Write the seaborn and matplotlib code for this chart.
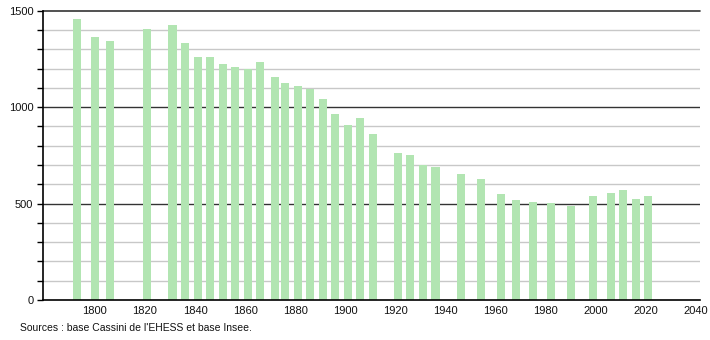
import matplotlib
matplotlib.use("Agg")
import matplotlib.pyplot as plt
import seaborn as sns
import pandas as pd
from matplotlib.ticker import MultipleLocator

years = [1793, 1800, 1806, 1821, 1831, 1836, 1841, 1846, 1851, 1856, 1861, 1866,
         1872, 1876, 1881, 1886, 1891, 1896, 1901, 1906, 1911, 1921, 1926, 1931,
         1936, 1946, 1954, 1962, 1968, 1975, 1982, 1990, 1999, 2006, 2011, 2016, 2021]
population = [1455, 1362, 1341, 1403, 1426, 1331, 1258, 1258, 1223, 1206, 1199, 1234,
              1154, 1127, 1109, 1092, 1040, 964, 907, 943, 861, 762, 750, 698,
              688, 653, 626, 550, 518, 508, 501, 487, 539, 555, 570, 522, 541]
xticks = list(range(1800, 2041, 20))
yticks = [0, 500, 1000, 1500]
source_text = "Sources : base Cassini de l'EHESS et base Insee."

sns.set_theme(style="white")
plt.rcParams['font.family'] = ['Liberation Sans', 'DejaVu Sans']

df = pd.DataFrame({"year": years, "population": population})

fig = plt.figure(figsize=(7.1, 3.4), dpi=100)
ax = fig.add_axes([43/710, 1 - 300/340, (700 - 43)/710, (300 - 10.7)/340])

# grid lines
for v in range(100, 1500, 100):
    if v % 500 == 0:
        ax.axhline(v, color="#333333", lw=1.0, zorder=0)
    else:
        ax.axhline(v, color="#c8c8c8", lw=1.0, zorder=0)
ax.axhline(1500, color="#333333", lw=1.2, zorder=0, clip_on=False)

sns.barplot(data=df, x="year", y="population", native_scale=True, width=0.8,
            color="#b2e5b2", saturation=1, edgecolor="none", ax=ax, zorder=2)

ax.set_xlim(1779.3, 2041.6)
ax.set_ylim(0, 1500)
ax.set_xticks(xticks)
ax.set_xticklabels([str(t) for t in xticks], fontsize=8, color="#111111")
ax.set_yticks(yticks)
ax.set_yticklabels([str(t) for t in yticks], fontsize=8, color="#111111")
ax.yaxis.set_minor_locator(MultipleLocator(100))
ax.tick_params(axis="y", which="both", left=True, length=4, width=1, color="black", pad=3)
ax.tick_params(axis="x", which="both", bottom=False, length=0, pad=4)
ax.set_xlabel("")
ax.set_ylabel("")
for s in ["top", "right"]:
    ax.spines[s].set_visible(False)
for s in ["left", "bottom"]:
    ax.spines[s].set_color("black")
    ax.spines[s].set_linewidth(1.2)
    ax.spines[s].set_zorder(3)

fig.text(20/710, 1 - 328/340, source_text, fontsize=7.5, color="#111111", va="center", ha="left")

fig.savefig("out.png", dpi=100)
